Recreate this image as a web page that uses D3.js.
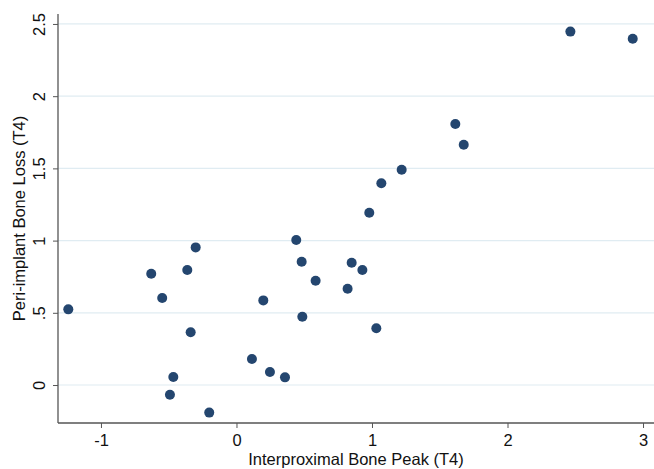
<!DOCTYPE html>
<html>
<head>
<meta charset="utf-8">
<script src="https://cdn.jsdelivr.net/npm/d3@7"></script>
<style>
  body { margin: 0; background: #fff; }
  svg { display: block; font-family: "Liberation Sans", Arial, sans-serif; }
</style>
</head>
<body>
<div id="chart"></div>
<script>
// Interproximal bone peak (x) vs peri-implant bone loss (y)
const boneLoss = [0.524, 0.771, 0.602, 0.953, 0.796, 0.365, 0.055, -0.067, -0.191,
                  1.004, 0.854, 0.722, 0.586, 0.473, 0.180, 0.090, 0.053,
                  0.847, 0.796, 0.667, 0.393,
                  2.447, 2.398, 1.807, 1.664, 1.491, 1.397, 1.193];
const bonePeak = [-1.241, -0.629, -0.548, -0.301, -0.363, -0.338, -0.466, -0.491, -0.201,
                  0.441, 0.481, 0.584, 0.198, 0.486, 0.114, 0.247, 0.358,
                  0.850, 0.929, 0.820, 1.032,
                  2.464, 2.924, 1.615, 1.677, 1.219, 1.069, 0.980];
const xTicks = [-1, 0, 1, 2, 3];
const xTickLabels = ["-1", "0", "1", "2", "3"];
const yTicks = [0, 0.5, 1, 1.5, 2, 2.5];
const yTickLabels = ["0", ".5", "1", "1.5", "2", "2.5"];

const width = 654, height = 469;
const margin = {top: 14, right: 0, bottom: 46, left: 58};
const innerW = width - margin.left - margin.right;
const innerH = height - margin.top - margin.bottom;
const fontSize = 16.5;

const svg = d3.select("#chart").append("svg")
    .attr("width", width)
    .attr("height", height);

const g = svg.append("g")
    .attr("transform", `translate(${margin.left},${margin.top})`);

const x = d3.scaleLinear().domain([-1.317, 3.081]).range([0, innerW]);
const y = d3.scaleLinear().domain([-0.263, 2.569]).range([innerH, 0]);

// gridlines
g.append("g")
  .selectAll("line")
  .data(yTicks)
  .join("line")
    .attr("x1", 0)
    .attr("x2", innerW)
    .attr("y1", d => y(d))
    .attr("y2", d => y(d))
    .attr("stroke", "#e0ecf2")
    .attr("stroke-width", 1.2);

// x axis
const xAxisG = g.append("g")
    .attr("transform", `translate(0,${innerH})`)
    .call(d3.axisBottom(x).tickValues(xTicks).tickSize(5).tickPadding(6).tickFormat((d, i) => xTickLabels[i]));

// y axis, labels rotated like Stata
const yAxisG = g.append("g")
    .call(d3.axisLeft(y).tickValues(yTicks).tickSize(5).tickFormat((d, i) => yTickLabels[i]));

yAxisG.selectAll("text")
    .attr("x", null)
    .attr("dy", null)
    .attr("text-anchor", "middle")
    .attr("transform", "translate(-13,0) rotate(-90)");

[xAxisG, yAxisG].forEach(a => {
  a.select(".domain").attr("stroke", "#555").attr("stroke-width", 1.3);
  a.selectAll(".tick line").attr("stroke", "#555").attr("stroke-width", 1);
  a.selectAll("text").attr("font-size", fontSize).attr("fill", "#111").attr("font-family", "Liberation Sans, Arial, sans-serif");
});
// remove the end caps of the domain path
xAxisG.select(".domain").attr("d", `M0,0H${innerW}`);
yAxisG.select(".domain").attr("d", `M0,0V${innerH}`);

// points
g.append("g")
  .selectAll("circle")
  .data(bonePeak.map((v, i) => ({x: v, y: boneLoss[i]})))
  .join("circle")
    .attr("cx", d => x(d.x))
    .attr("cy", d => y(d.y))
    .attr("r", 5)
    .attr("fill", "#24466f");

// axis titles
svg.append("text")
    .attr("x", margin.left + innerW / 2)
    .attr("y", 465)
    .attr("text-anchor", "middle")
    .attr("font-size", fontSize)
    .attr("fill", "#111")
    .text("Interproximal Bone Peak (T4)");

svg.append("text")
    .attr("transform", `translate(25,${margin.top + innerH / 2}) rotate(-90)`)
    .attr("text-anchor", "middle")
    .attr("font-size", fontSize)
    .attr("fill", "#111")
    .text("Peri-implant Bone Loss (T4)");
</script>
</body>
</html>
